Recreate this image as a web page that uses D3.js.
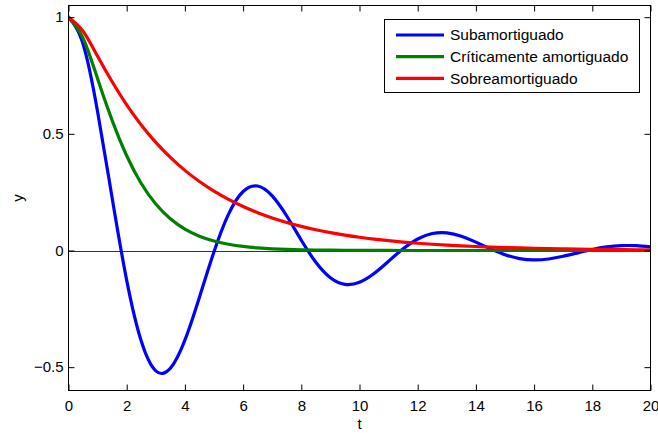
<!DOCTYPE html>
<html>
<head>
<meta charset="utf-8">
<script src="https://cdn.jsdelivr.net/npm/d3@7"></script>
<style>
  html, body { margin: 0; padding: 0; background: #fff; }
  svg { display: block; font-family: "Liberation Sans", Arial, Helvetica, sans-serif; }
</style>
</head>
<body>
<svg id="chart" width="658" height="433"></svg>
<script>
// Time samples (s)
const tValues = [0, 0.5, 1, 1.5, 2, 2.5, 3, 3.5, 4, 4.5, 5, 5.5, 6, 6.5, 7, 7.5, 8, 8.5, 9, 9.5, 10,
  10.5, 11, 11.5, 12, 12.5, 13, 13.5, 14, 14.5, 15, 15.5, 16, 16.5, 17, 17.5, 18, 18.5, 19, 19.5, 20];

// Step responses of the three damping regimes
const subamortiguado = [1, 0.8852, 0.5948, 0.2250, -0.1278, -0.3882, -0.5159, -0.5049, -0.3843, -0.2003,
  -0.0052, 0.1558, 0.2529, 0.2763, 0.2341, 0.1478, 0.0440, -0.0505, -0.1168, -0.1451, -0.1360,
  -0.0985, -0.0458, 0.0075, 0.0494, 0.0728, 0.0758, 0.0614, 0.0360, 0.0072, -0.0179,
  -0.0346, -0.0405, -0.0364, -0.0249, -0.0100, 0.0044, 0.0153, 0.0208, 0.0206, 0.0159];

const criticamente = [1, 0.9098, 0.7358, 0.5578, 0.4060, 0.2873, 0.1991, 0.1359, 0.0916, 0.0611,
  0.0404, 0.0266, 0.0174, 0.0113, 0.0073, 0.0047, 0.0030, 0.0019, 0.0012, 0.0008, 0.0005,
  0.0003, 0.0002, 0.0001, 0.0001, 0, 0, 0, 0, 0, 0,
  0, 0, 0, 0, 0, 0, 0, 0, 0, 0];

const sobreamortiguado = [1, 0.9399, 0.8323, 0.7233, 0.6245, 0.5382, 0.4635, 0.3989, 0.3434, 0.2955,
  0.2543, 0.2189, 0.1884, 0.1622, 0.1396, 0.1202, 0.1034, 0.0890, 0.0766, 0.0659, 0.0567,
  0.0489, 0.0421, 0.0362, 0.0311, 0.0268, 0.0231, 0.0199, 0.0171, 0.0147, 0.0127,
  0.0109, 0.0094, 0.0081, 0.0070, 0.0060, 0.0052, 0.0044, 0.0038, 0.0033, 0.0028];

const seriesNames = ["Subamortiguado", "Críticamente amortiguado", "Sobreamortiguado"];
const seriesColors = ["#0000ff", "#008000", "#ff0000"];
const seriesData = [subamortiguado, criticamente, sobreamortiguado];

const xTicks = [0, 2, 4, 6, 8, 10, 12, 14, 16, 18, 20];
const yTicks = [-0.5, 0, 0.5, 1];
const xLabel = "t";
const yLabel = "y";

// Layout
const svg = d3.select("#chart");
const plotLeft = 68.5, plotRight = 650.5, plotTop = 5.5, plotBottom = 390.5;
const tickLen = 6;
const fontSize = 15;

const x = d3.scaleLinear().domain([0, 20]).range([plotLeft, plotRight]);
const y = d3.scaleLinear().domain([-0.6, 1.05]).range([plotBottom, plotTop]);

svg.append("defs").append("clipPath").attr("id", "plotClip")
  .append("rect").attr("x", plotLeft).attr("y", plotTop)
  .attr("width", plotRight - plotLeft).attr("height", plotBottom - plotTop);

// Reference line at y = 0
svg.append("line")
  .attr("x1", x(0)).attr("x2", x(20))
  .attr("y1", Math.round(y(0)) + 0.5).attr("y2", Math.round(y(0)) + 0.5)
  .attr("stroke", "#000").attr("stroke-width", 0.8);

// Curves
const line = d3.line()
  .x((d, i) => x(tValues[i]))
  .y(d => y(d))
  .curve(d3.curveNatural);

const plot = svg.append("g").attr("clip-path", "url(#plotClip)");
seriesData.forEach((vals, k) => {
  plot.append("path")
    .datum(vals)
    .attr("d", line)
    .attr("fill", "none")
    .attr("stroke", seriesColors[k])
    .attr("stroke-width", 3.2)
    .attr("stroke-linejoin", "round")
    .attr("stroke-linecap", "round");
});

// Axes (ticks pointing inward, box framed separately)
function styleAxis(g) {
  g.select(".domain").remove();
  g.selectAll(".tick line").attr("stroke", "#000").attr("stroke-width", 1);
  g.selectAll(".tick text").attr("fill", "#000").attr("font-size", fontSize)
    .attr("font-family", "Liberation Sans, Arial, Helvetica, sans-serif");
}

svg.append("g").attr("transform", `translate(0,${plotBottom})`)
  .call(d3.axisBottom(x).tickValues(xTicks).tickFormat(d3.format("d"))
    .tickSizeInner(-tickLen).tickSizeOuter(0).tickPadding(10))
  .call(styleAxis);

svg.append("g").attr("transform", `translate(0,${plotTop})`)
  .call(d3.axisTop(x).tickValues(xTicks).tickFormat("")
    .tickSizeInner(-tickLen).tickSizeOuter(0))
  .call(styleAxis);

svg.append("g").attr("transform", `translate(${plotLeft},0)`)
  .call(d3.axisLeft(y).tickValues(yTicks).tickFormat(d3.format(""))
    .tickSizeInner(-tickLen).tickSizeOuter(0).tickPadding(5))
  .call(styleAxis);

svg.append("g").attr("transform", `translate(${plotRight},0)`)
  .call(d3.axisRight(y).tickValues(yTicks).tickFormat("")
    .tickSizeInner(-tickLen).tickSizeOuter(0))
  .call(styleAxis);

// Frame
svg.append("rect")
  .attr("x", plotLeft).attr("y", plotTop)
  .attr("width", plotRight - plotLeft).attr("height", plotBottom - plotTop)
  .attr("fill", "none").attr("stroke", "#000").attr("stroke-width", 1);

// Axis labels
svg.append("text")
  .attr("x", (plotLeft + plotRight) / 2).attr("y", 429)
  .attr("text-anchor", "middle").attr("font-size", fontSize)
  .text(xLabel);

svg.append("text")
  .attr("transform", `translate(23,${(plotTop + plotBottom) / 2}) rotate(-90)`)
  .attr("text-anchor", "middle").attr("font-size", fontSize)
  .text(yLabel);

// Legend
const legend = svg.append("g");
legend.append("rect")
  .attr("x", 384.5).attr("y", 19.5).attr("width", 255).attr("height", 73)
  .attr("fill", "#fff").attr("stroke", "#000").attr("stroke-width", 1);

const rowY = [35, 56.7, 78.4];
seriesNames.forEach((name, k) => {
  legend.append("line")
    .attr("x1", 396).attr("x2", 444)
    .attr("y1", rowY[k]).attr("y2", rowY[k])
    .attr("stroke", seriesColors[k]).attr("stroke-width", 3.2);
  legend.append("text")
    .attr("x", 450).attr("y", rowY[k]).attr("dy", "0.35em")
    .attr("font-size", 15.5)
    .text(name);
});
</script>
</body>
</html>
